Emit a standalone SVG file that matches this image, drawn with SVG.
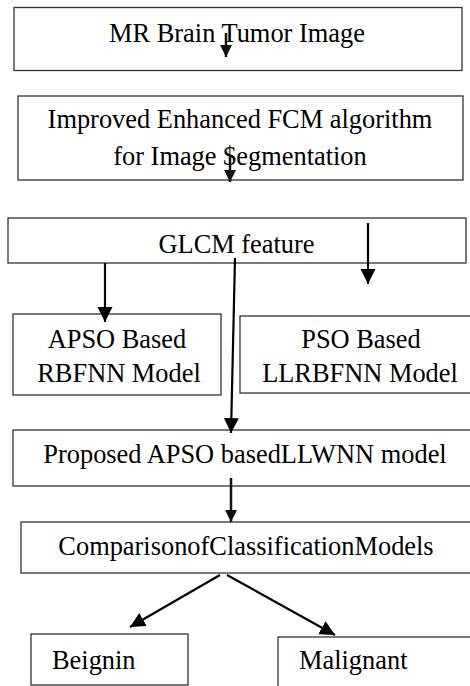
<svg xmlns="http://www.w3.org/2000/svg" width="470" height="686" viewBox="0 0 470 686">
<style>
.box{fill:#fff;stroke:#333;stroke-width:1.3}
.t{font-family:"Liberation Serif","Times New Roman",serif;font-size:26.4px;fill:#000}
.c{text-anchor:middle}
.a{stroke:#000;stroke-width:2.2;fill:none;marker-end:url(#ah)}
.s{stroke:#111;stroke-width:2.5;fill:none;marker-end:url(#ahs)}
</style>
<defs>
<marker id="ah" markerUnits="userSpaceOnUse" markerWidth="16" markerHeight="16" refX="15" refY="7.5" orient="auto"><path d="M0,0 L15,7.5 L0,15 z" fill="#000"/></marker>
<marker id="ahs" markerUnits="userSpaceOnUse" markerWidth="13" markerHeight="13" refX="12" refY="6" orient="auto"><path d="M0,0 L12,6 L0,12 z" fill="#111"/></marker>
</defs>
<rect width="470" height="686" fill="#fff"/>
<g id="n1"><rect class="box" x="14" y="7.5" width="448" height="63"/><text class="t c" x="237" y="42">MR Brain Tumor Image</text></g>
<g id="n2"><rect class="box" x="18" y="96" width="445" height="84"/><text class="t c" x="240" y="128">Improved Enhanced FCM algorithm</text><text class="t c" x="240" y="165">for Image $egmentation</text></g>
<g id="n3"><rect class="box" x="8" y="218" width="458" height="45"/><text class="t c" x="236.5" y="253">GLCM feature</text></g>
<g id="n4"><rect class="box" x="13" y="314" width="208" height="81"/><text class="t c" x="117" y="348">APSO Based</text><text class="t c" x="119" y="382">RBFNN Model</text></g>
<g id="n5"><rect class="box" x="240" y="316" width="240" height="77"/><text class="t c" x="361" y="348">PSO Based</text><text class="t c" x="360" y="382">LLRBFNN Model</text></g>
<g id="n6"><rect class="box" x="13" y="430" width="470" height="56"/><text class="t c" x="245" y="463">Proposed APSO basedLLWNN model</text></g>
<g id="n7"><rect class="box" x="21" y="522" width="462" height="51"/><text class="t c" x="246" y="555">ComparisonofClassificationModels</text></g>
<g id="n8"><rect class="box" x="31" y="634" width="157" height="51"/><text class="t" x="52" y="669">Beignin</text></g>
<g id="n9"><rect class="box" x="278" y="637" width="200" height="60"/><text class="t" x="299" y="669">Malignant</text></g>
<g id="connectors">
<line class="s" x1="226" y1="33" x2="226" y2="57"/>
<line class="s" x1="230" y1="157" x2="230" y2="182"/>
<line class="a" x1="105" y1="263" x2="105" y2="322"/>
<line class="a" x1="368" y1="223" x2="368" y2="284"/>
<line class="a" x1="235" y1="258" x2="231" y2="433"/>
<line class="s" x1="231" y1="478" x2="231" y2="522"/>
<line class="a" x1="220" y1="575" x2="130" y2="627"/>
<line class="a" x1="227" y1="575" x2="335" y2="635"/>
</g>
</svg>
